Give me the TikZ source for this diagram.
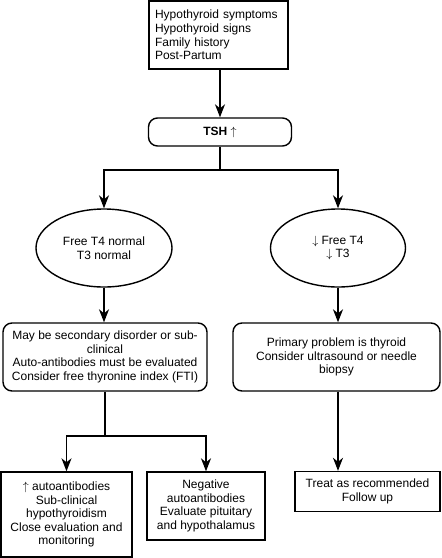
\documentclass[tikz,border=0pt]{standalone}
\usepackage{fontspec}
\setmainfont{Liberation Sans}
\usetikzlibrary{arrows.meta,shapes.geometric}
\tikzset{
  base/.style={draw, line width=1.4pt, align=center, inner sep=2pt, font=\fontsize{12}{13.6}\selectfont},
  sqbox/.style={base, rectangle},
  rbox/.style={base, rectangle, rounded corners=9pt},
  ell/.style={base, ellipse},
  conn/.style={line width=1.4pt},
  arr/.style={conn, -{Stealth[length=13pt,width=10pt,inset=4pt]}}
}
\begin{document}
\begin{tikzpicture}[x=1pt,y=-1pt]
\useasboundingbox (0,0) rectangle (442,558);
\node[sqbox, minimum width=139pt, minimum height=68pt, align=left, text width=127pt] (top) at (218.5,35)
  {Hypothyroid symptoms\\Hypothyroid signs\\Family history\\Post-Partum};
\node[rbox, minimum width=143pt, minimum height=28pt] (tsh) at (220,132) {\textbf{TSH} $\uparrow$};
\node[ell, minimum width=136pt, minimum height=78pt, inner sep=0pt] (e1) at (104,248) {Free T4 normal\\T3 normal};
\node[ell, minimum width=135pt, minimum height=78pt] (e2) at (338,248) {$\downarrow$ Free T4\\$\downarrow$ T3};
\node[rbox, minimum width=204pt, minimum height=68pt, inner sep=0pt] (lbox) at (105,357)
  {May be secondary disorder or sub-\\clinical\\Auto-antibodies must be evaluated\\Consider free thyronine index (FTI)};
\node[rbox, minimum width=207pt, minimum height=68pt] (rbx) at (336.5,357)
  {Primary problem is thyroid\\Consider ultrasound or needle\\biopsy};
\node[sqbox, minimum width=131pt, minimum height=85pt, inner sep=0pt] (bl) at (66.5,514.5)
  {$\uparrow$ autoantibodies\\Sub-clinical\\hypothyroidism\\Close evaluation and\\monitoring};
\node[sqbox, minimum width=118pt, minimum height=68pt, inner sep=0pt] (bm) at (206,506)
  {Negative\\autoantibodies\\Evaluate pituitary\\and hypothalamus};
\node[sqbox, minimum width=145pt, minimum height=40pt] (br) at (367.5,491.5)
  {Treat as recommended\\Follow up};
\coordinate (j1) at (220,170);
\coordinate (j2) at (105,436);
\draw[arr] (top.south -| tsh) -- (tsh);
\draw[conn] (tsh) -- (j1);
\draw[arr] (j1) -| (e1);
\draw[arr] (j1) -| (e2);
\draw[arr] (e1.south) -- (e1.south |- lbox.north);
\draw[arr] (e2.south) -- (e2.south |- rbx.north);
\draw[conn] (lbox.south) -- (j2);
\draw[arr] (j2) -| (bl);
\draw[arr] (j2) -| (bm);
\draw[arr] (e2 |- rbx.south) -- (e2 |- br.north);
\end{tikzpicture}
\end{document}
